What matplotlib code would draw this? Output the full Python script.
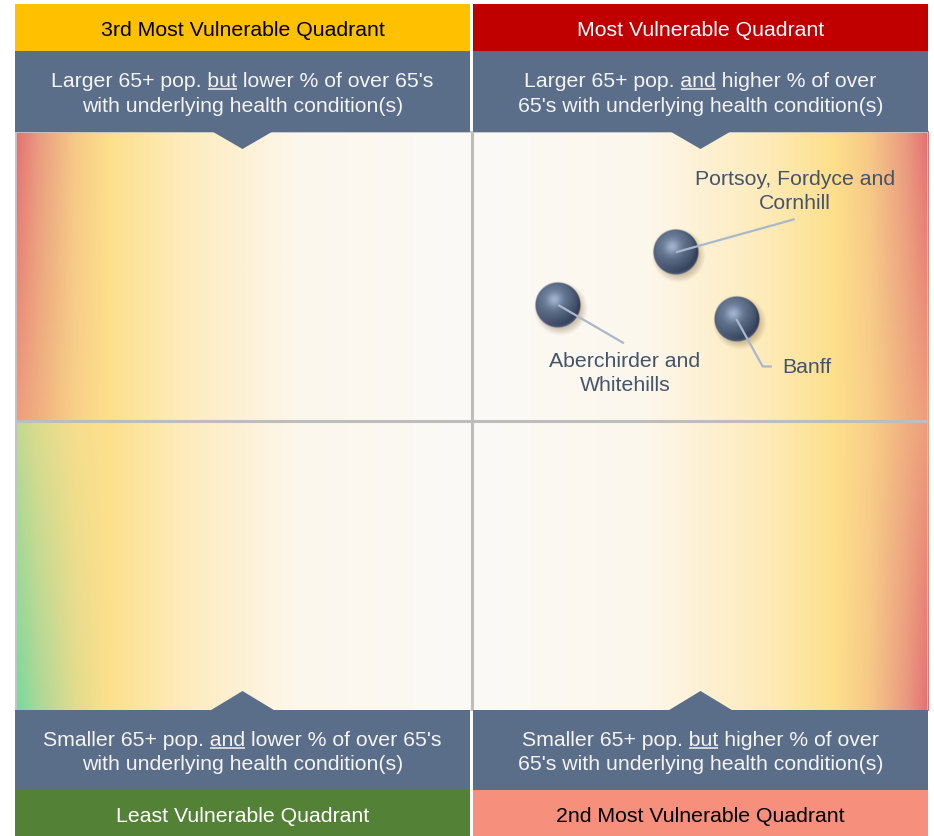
import numpy as np
import matplotlib
matplotlib.use("Agg")
import matplotlib.pyplot as plt
from matplotlib.patches import Rectangle, Polygon

plt.rcParams['font.family'] = ['Liberation Sans', 'DejaVu Sans']

# ---- data (positions on a 0-100 relative scale inside the quadrant chart)
names = ["Portsoy, Fordyce and\nCornhill", "Aberchirder and\nWhitehills", "Banff"]
pct_condition = [72.4, 59.5, 79.0]     # x: % of over 65's with underlying condition
pop_65 = [79.1, 70.0, 67.6]            # y: size of 65+ population

# label anchors, same scale
lab_x = [85.4, 66.8, 84.0]
lab_y = [89.8, 58.4, 59.4]
lab_ha = ['center', 'center', 'left']
lead_end = [(85.4, 84.8), (66.7, 63.4), (82.9, 59.4)]
lead_via = [None, None, (81.9, 59.4)]

top_titles = ["3rd Most Vulnerable Quadrant", "Most Vulnerable Quadrant"]
bot_titles = ["Least Vulnerable Quadrant", "2nd Most Vulnerable Quadrant"]
top_desc = [("Larger 65+ pop. ", "but", " lower % of over 65's", "with underlying health condition(s)"),
            ("Larger 65+ pop. ", "and", " higher % of over", "65's with underlying health condition(s)")]
bot_desc = [("Smaller 65+ pop. ", "and", " lower % of over 65's", "with underlying health condition(s)"),
            ("Smaller 65+ pop. ", "but", " higher % of over", "65's with underlying health condition(s)")]

# ---- style
W, H = 934, 837
SLATE = '#5A6D89'
top_cols = ['#FFC000', '#C00000']
top_txt = ['black', 'white']
bot_cols = ['#538135', '#F68F7B']
bot_txt = ['white', 'black']
LABEL_C = '#44546A'
R_PX = 22.5
FS = 15.3

fig = plt.figure(figsize=(W / 100, H / 100), dpi=100)
fig.patch.set_facecolor('white')

ax = fig.add_axes([15 / W, 1 - 712 / H, 913 / W, 580 / H])
ax.set_xlim(0, 100)
ax.set_ylim(0, 100)
ax.axis('off')


def hx(c):
    c = c.lstrip('#')
    return [int(c[i:i + 2], 16) / 255 for i in (0, 2, 4)]


stops = [0, 0.05, 0.13, 0.21, 0.36, 0.62, 1.0]
tail = ['#FEE08C', '#FDEBBA', '#FDF7EC', '#FBFAF7']
red_p = ['#E46E72', '#EA9A80', '#F6C887'] + tail
org_p = ['#EE9C7C', '#F0B080', '#F8D088'] + tail
ylg_p = ['#C2D890', '#DCDC8E', '#F6DE8C'] + tail
grn_p = ['#76D89E', '#A8D898', '#E0DC8E'] + tail


def quad_img(top_p, bot_p, flip, w=455, h=290):
    t = np.linspace(0, 1, w)
    if flip:
        t = t[::-1]
    prof = []
    for p in (top_p, bot_p):
        cs = np.array([hx(c) for c in p])
        prof.append(np.stack([np.interp(t, stops, cs[:, k]) for k in range(3)], -1))
    s = np.linspace(0, 1, h)[:, None, None]
    return prof[0][None] * (1 - s) + prof[1][None] * s


ax.imshow(quad_img(red_p, org_p, False), extent=(0, 50, 50, 100), aspect='auto', zorder=0)
ax.imshow(quad_img(ylg_p, grn_p, False), extent=(0, 50, 0, 50), aspect='auto', zorder=0)
ax.imshow(quad_img(red_p, org_p, True), extent=(50, 100, 50, 100), aspect='auto', zorder=0)
ax.imshow(quad_img(org_p, red_p, True), extent=(50, 100, 0, 50), aspect='auto', zorder=0)

ax.axvline(50, color='#BDBDBD', lw=2.2, zorder=1)
ax.axhline(50, color='#BDBDBD', lw=2.2, zorder=1)
ax.add_patch(Rectangle((0, 0), 100, 100, fill=False, ec='#C2C4CA', lw=2, zorder=1))


# ---- spheres
def sphere_rgba(n=136, span=1.5, rpx=R_PX):
    g = np.linspace(-span, span, n)
    u, v = np.meshgrid(g, g)
    rr = np.sqrt(u ** 2 + v ** 2)
    z = np.sqrt(np.clip(1 - rr ** 2, 0, None))
    L = np.array([-0.3, 0.45, 0.85])
    L = L / np.linalg.norm(L)
    diff = np.clip(u * L[0] + v * L[1] + z * L[2], 0, 1)
    Hh = L + np.array([0, 0, 1.0])
    Hh = Hh / np.linalg.norm(Hh)
    spec = np.clip(u * Hh[0] + v * Hh[1] + z * Hh[2], 0, 1) ** 18
    dark = np.array(hx('#2E3A52'))
    light = np.array(hx('#6A7C98'))
    col = dark + (light - dark) * (diff[..., None] ** 0.9)
    col = col + spec[..., None] * 0.22
    rim = np.clip(-v, 0, 1) * np.clip(rr, 0, 1) ** 8 * 0.3
    col = col + rim[..., None] * np.array([0.55, 0.6, 0.68])
    col = np.clip(col, 0, 1)
    a_s = np.clip((1 - rr) * rpx + 0.5, 0, 1)
    d = np.sqrt((u - 0.12) ** 2 + (v + 0.16) ** 2)
    sh = 0.38 * np.clip((1.2 - d) / 0.32, 0, 1)
    shc = np.array(hx('#8A7050'))
    a = a_s + sh * (1 - a_s)
    rgb = (col * a_s[..., None] + shc * (sh * (1 - a_s))[..., None]) / np.maximum(a, 1e-6)[..., None]
    return np.dstack([rgb, a])


sph = sphere_rgba()
ex = 1.5 * R_PX * 100 / 913
ey = 1.5 * R_PX * 100 / 580
for x, y in zip(pct_condition, pop_65):
    ax.imshow(sph, extent=(x - ex, x + ex, y - ey, y + ey), origin='lower',
              aspect='auto', zorder=3, interpolation='bilinear')

for x, y, le, via in zip(pct_condition, pop_65, lead_end, lead_via):
    xs = [x] + ([via[0]] if via else []) + [le[0]]
    ys = [y] + ([via[1]] if via else []) + [le[1]]
    ax.plot(xs, ys, color='#A9B8CB', lw=1.6, zorder=4, solid_capstyle='butt')

for nm, lx, ly, ha in zip(names, lab_x, lab_y, lab_ha):
    ax.text(lx, ly, nm, ha=ha, va='center', fontsize=FS, color=LABEL_C,
            linespacing=1.33, zorder=5)
ax.set_xlim(0, 100)
ax.set_ylim(0, 100)

# ---- header / footer boxes (pixel layout overlay)
ov = fig.add_axes([0, 0, 1, 1], zorder=5)
ov.set_xlim(0, W)
ov.set_ylim(H, 0)
ov.axis('off')
ov.patch.set_alpha(0)

cols = [(15, 470), (473, 928)]
TXT = '#F4F4F4'
under = []
for i, (x0, x1) in enumerate(cols):
    cx = (x0 + x1) / 2
    w = x1 - x0
    ov.add_patch(Rectangle((x0, 5), w, 47, color=top_cols[i], lw=0))
    ov.add_patch(Rectangle((x0, 52), w, 81, color=SLATE, lw=0))
    ov.add_patch(Polygon([(cx - 31, 132), (cx + 31, 132), (cx, 150)], color=SLATE, lw=0))
    ov.text(cx, 36, top_titles[i], ha='center', va='baseline', fontsize=FS, color=top_txt[i])

    ov.add_patch(Rectangle((x0, 711), w, 80, color=SLATE, lw=0))
    ov.add_patch(Polygon([(cx - 33, 712), (cx + 33, 712), (cx, 692)], color=SLATE, lw=0))
    ov.add_patch(Rectangle((x0, 791), w, 46, color=bot_cols[i], lw=0))
    ov.text(cx, 822.5, bot_titles[i], ha='center', va='baseline', fontsize=FS, color=bot_txt[i])

    for desc, yb in ((top_desc[i], 87.3), (bot_desc[i], 745.7)):
        pre, word, post, line2 = desc
        t1 = ov.text(cx, yb, pre + word + post, ha='center', va='baseline', fontsize=FS, color=TXT)
        ov.text(cx, yb + 24.5, line2, ha='center', va='baseline', fontsize=FS, color=TXT)
        under.append((t1, pre, word, yb))

fig.canvas.draw()
rend = fig.canvas.get_renderer()


def twidth(s):
    t = ov.text(0, 0, s, fontsize=FS)
    bb = t.get_window_extent(rend)
    t.remove()
    return bb.width


for t1, pre, word, yb in under:
    bb = t1.get_window_extent(rend)
    xe = bb.x0 + twidth(pre + word)
    xs = xe - twidth(word)
    ov.plot([xs, xe], [yb + 2.8, yb + 2.8], color=TXT, lw=1.1, solid_capstyle='butt')

fig.savefig('out.png', dpi=100, facecolor='white')
